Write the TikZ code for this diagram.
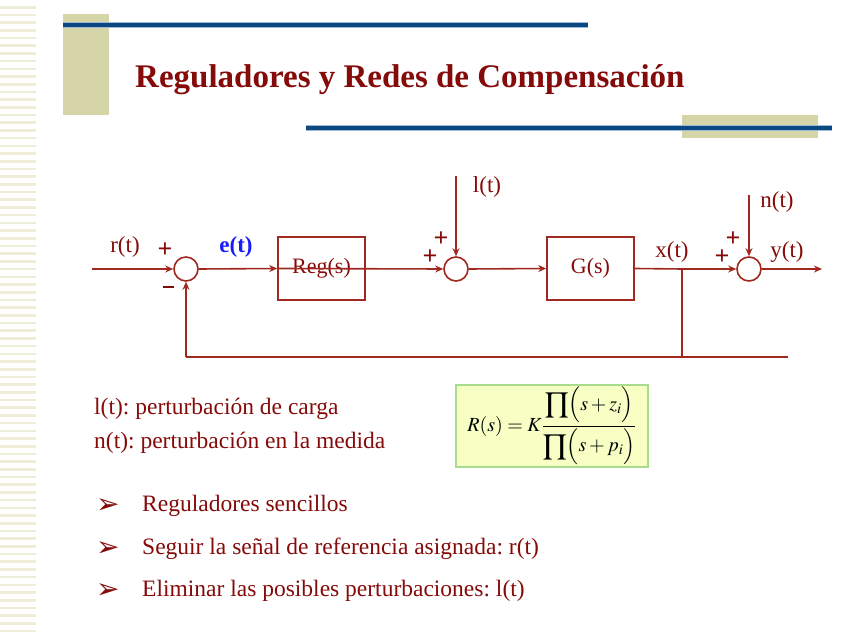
\documentclass[tikz,border=0pt]{standalone}
\usepackage{amsmath}
\usepackage{mathptmx}
\usepackage{fontspec}
\setmainfont{Liberation Serif}
\newfontfamily\symfont{DejaVu Sans}
\usetikzlibrary{arrows.meta, positioning, calc}
\frenchspacing
\definecolor{basered}{HTML}{850A0A}
\definecolor{linered}{HTML}{A0281E}
\definecolor{navyline}{HTML}{0B4780}
\definecolor{lightnavy}{HTML}{9DB8D6}
\definecolor{khaki}{HTML}{D5D5A8}
\definecolor{stripe}{HTML}{EEEED8}
\definecolor{formulafill}{HTML}{F7FFC4}
\definecolor{formulaframe}{HTML}{A6DC8C}
\definecolor{signalblue}{HTML}{1A1AFF}

\tikzset{
  block/.style={draw=linered, line width=1.6pt, minimum width=87pt,
    minimum height=63pt, inner sep=0pt, text=basered,
    font=\fontsize{22}{22}\selectfont},
  sumnode/.style={circle, draw=linered, line width=1.6pt,
    minimum size=24pt, inner sep=0pt},
  signal/.style={text=basered, anchor=base, inner sep=0pt,
    font=\fontsize{23}{23}\selectfont},
  sign/.style={text=basered, inner sep=0pt,
    font=\fontsize{26}{26}\selectfont\bfseries},
  wire/.style={draw=linered, line width=1.6pt},
  bandline/.style={line width=6pt, draw=lightnavy,
    postaction={draw=navyline, line width=4pt}},
  bodytext/.style={text=basered, anchor=base west, inner sep=0pt,
    font=\fontsize{23.5}{23.5}\selectfont},
}

\begin{document}
\begin{tikzpicture}[x=1pt, y=-1pt, >={Stealth[length=8pt, width=7pt]}]
  \useasboundingbox (0,0) rectangle (848,636);
  % left stripes
  \foreach \y in {6,13.7,...,632}
    \fill[stripe] (0,\y) rectangle (36,\y+2.6);

  % header bands
  \fill[khaki] (63,14) rectangle (109,115);
  \fill[khaki] (682,115) rectangle (818,138);
  \draw[bandline] (63,25) -- (588,25);
  \draw[bandline] (306,128) -- (832,128);
  \node[text=basered, anchor=base west, inner sep=0pt,
    font=\fontsize{33}{33}\selectfont\bfseries] (title) at (135,88)
    {Reguladores y Redes de Compensación};

  % block diagram
  \node[sumnode] (s1) at (186,269) {};
  \node[block] (reg) at (321.5,268.5) {\raisebox{-3pt}{Reg(s)}};
  \node[sumnode] (s2) at (456,269) {};
  \node[block] (plant) at (590.5,268.5) {G(s)};
  \node[sumnode] (s3) at (749,269) {};
  \coordinate (rin) at (92,269);
  \coordinate (yout) at (822,269);
  \coordinate (lin) at (456,176);
  \coordinate (nin) at (749,195);
  \coordinate (branch) at (682,269);
  \coordinate (fbend) at (186,357);
  \coordinate (fend) at (788,357);

  \draw[wire, ->] (rin) -- (s1.west);
  \draw[wire, ->] (s1.east) -- (reg.west);
  \draw[wire, ->] (reg.west) -- (s2.west);
  \draw[wire, ->] (lin) -- (s2.north);
  \draw[wire, ->] (s2.east) -- (plant.west);
  \draw[wire] (plant.east) -- (branch);
  \draw[wire, ->] (branch) -- (s3.west);
  \draw[wire, ->] (nin) -- (s3.north);
  \draw[wire, ->] (s3.east) -- (yout);
  \draw[wire] (branch) -- (branch |- fend);
  \draw[wire] (fbend) -- (fend);
  \draw[wire, ->] (fbend) -- (s1.south);

  % signal names and signs
  \node[signal] (rlabel) at (125,253) {r(t)};
  \node[signal, text=signalblue, font=\fontsize{23}{23}\selectfont\bfseries]
    (elabel) at (236,253) {e(t)};
  \node[signal] (llabel) at (487,193) {l(t)};
  \node[signal] (nlabel) at (777,208) {n(t)};
  \node[signal] (xlabel) at (672,258) {x(t)};
  \node[signal] (ylabel) at (787,258) {y(t)};
  \node[sign] (p1) at (165,250) {+};
  \node[sign] (m1) at (168,287) {\rule{11pt}{2.2pt}};
  \node[sign] (p2a) at (441,239) {+};
  \node[sign] (p2b) at (430,257) {+};
  \node[sign] (p3a) at (733,239) {+};
  \node[sign] (p3b) at (722,257) {+};

  % notes
  \node[bodytext] (lnote) at (94,414) {l(t): perturbación de carga};
  \node[bodytext] (nnote) at (94,448) {n(t): perturbación en la medida};
  \node[draw=formulaframe, fill=formulafill, line width=1.2pt,
    minimum width=192pt, minimum height=82pt, inner sep=0pt,
    font=\fontsize{20}{20}\selectfont] (formula) at (552,426)
    {$R(s) = K\dfrac{\displaystyle\prod\Bigl(s+z_i\Bigr)}{\displaystyle\prod\Bigl(s+p_i\Bigr)}$};

  % bullets
  \foreach \txt [count=\i] in {Reguladores sencillos,
      Seguir la señal de referencia asignada: r(t),
      Eliminar las posibles perturbaciones: l(t)} {
    \node[text=basered, anchor=base west, inner sep=0pt,
      font=\symfont\fontsize{28}{28}\selectfont] (mark\i) at (96,471+42.5*\i) {➢};
    \node[bodytext] (item\i) at (142,469+42.5*\i) {\txt};
  }
\end{tikzpicture}
\end{document}
